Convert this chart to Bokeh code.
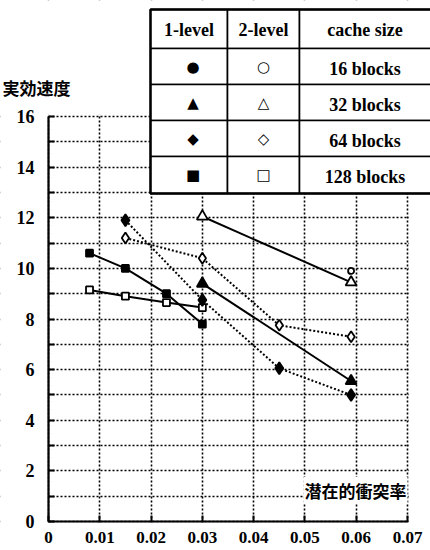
from bokeh.plotting import figure
from bokeh.models import FixedTicker, BoxAnnotation, Label, Range1d
from bokeh.embed import file_html
from bokeh.resources import INLINE

# ---- data -------------------------------------------------------------
x_ticks = [0, 0.01, 0.02, 0.03, 0.04, 0.05, 0.06, 0.07]
x_tick_labels = ["0", "0.01", "0.02", "0.03", "0.04", "0.05", "0.06", "0.07"]
y_ticks = list(range(0, 17))
y_tick_labels = ["0", "", "2", "", "4", "", "6", "", "8", "", "10", "", "12", "", "14", "", "16"]

# 128 blocks
x128 = [0.008, 0.015, 0.023, 0.030]
y128_1level = [10.6, 10.0, 9.0, 7.8]
y128_2level = [9.15, 8.9, 8.65, 8.45]
# 64 blocks
x64 = [0.015, 0.030, 0.045, 0.059]
y64_1level = [11.9, 8.75, 6.05, 5.0]
y64_2level = [11.2, 10.4, 7.75, 7.3]
# 32 blocks
x32 = [0.030, 0.059]
y32_1level = [9.4, 5.55]
y32_2level = [12.05, 9.45]
# 16 blocks
x16 = [0.059]
y16_2level = [9.9]

y_title = "実効速度"
x_title = "潜在的衝突率"
table_header = ["1-level", "2-level", "cache size"]
table_sizes = ["16 blocks", "32 blocks", "64 blocks", "128 blocks"]
table_filled = ["\u25CF", "\u25B2", "\u25C6", "\u25A0"]
table_open = ["\u25CB", "\u25B3", "\u25C7", "\u25A1"]

# ---- layout geometry (pixels, canvas = whole page) --------------------
W, H = 430, 550
PX_LEFT, PX_RIGHT = 48, 407      # x = 0 and x = 0.07
PX_TOP, PX_BOTTOM = 116, 521     # y = 16 and y = 0 (from top)
XMAX, YMAX = x_ticks[-1], y_ticks[-1]
xs_per_px = XMAX / (PX_RIGHT - PX_LEFT)
ys_per_px = YMAX / (PX_BOTTOM - PX_TOP)
x_range = Range1d(-PX_LEFT * xs_per_px, XMAX + (W - PX_RIGHT) * xs_per_px)
y_range = Range1d(-(H - PX_BOTTOM) * ys_per_px, YMAX + PX_TOP * ys_per_px)

SERIF = "Liberation Serif"
CJK = "Noto Sans CJK JP"

p = figure(width=W, height=H, output_backend="svg", toolbar_location=None,
           x_range=x_range, y_range=y_range,
           min_border=0, title=None)
p.outline_line_color = None
p.background_fill_color = "white"
p.border_fill_color = "white"

# axes drawn at fixed data locations (so the whole canvas is the frame)
p.xaxis.fixed_location = 0
p.yaxis.fixed_location = 0
p.xaxis.bounds = (0, XMAX)
p.yaxis.bounds = (0, YMAX)
p.xaxis.ticker = FixedTicker(ticks=x_ticks)
p.xaxis.major_label_overrides = {t: l for t, l in zip(x_ticks, x_tick_labels)}
p.yaxis.ticker = FixedTicker(ticks=y_ticks)
p.yaxis.major_label_overrides = {t: l for t, l in zip(y_ticks, y_tick_labels)}
for ax in (p.xaxis, p.yaxis):
    ax.axis_line_width = 2.2
    ax.axis_line_color = "black"
    ax.major_tick_in = 6
    ax.major_tick_out = 0
    ax.major_tick_line_width = 2
    ax.major_tick_line_color = "black"
    ax.minor_tick_line_color = None
    ax.major_label_text_font = SERIF
    ax.major_label_text_font_style = "bold"
    ax.major_label_text_color = "black"
    ax.major_label_text_font_size = "18px"
p.xaxis.major_label_text_font_size = "17px"
p.xaxis.major_label_standoff = 10
p.yaxis.major_label_standoff = 14

# grid
for g in (p.xgrid, p.ygrid):
    g.grid_line_color = "black"
    g.grid_line_dash = "2 2"
    g.grid_line_width = 1.6
    g.grid_line_alpha = 1
p.xgrid.ticker = FixedTicker(ticks=x_ticks)
p.ygrid.ticker = FixedTicker(ticks=y_ticks)

# white masks so the grid only covers 0..0.07 x 0..16
mask = dict(fill_color="white", fill_alpha=1, line_alpha=0, level="underlay")
p.add_layout(BoxAnnotation(bottom=YMAX + 0.07, **mask))
p.add_layout(BoxAnnotation(top=-0.05, **mask))
p.add_layout(BoxAnnotation(right=-0.0002, **mask))
p.add_layout(BoxAnnotation(left=XMAX + 0.0003, **mask))

# ---- series -----------------------------------------------------------
def series(xs, ys, marker, filled, size, dash="solid"):
    p.line(xs, ys, line_color="black", line_width=2, line_dash=dash)
    p.scatter(xs, ys, marker=marker, size=size,
              fill_color="black" if filled else "white",
              line_color="black", line_width=1.8)

series(x128, y128_1level, "square", True, 7)
series(x128, y128_2level, "square", False, 7)
series(x64, y64_1level, "diamond", True, 12, "2 2")
series(x64, y64_2level, "diamond", False, 11, "2 2")
series(x32, y32_1level, "triangle", True, 11)
series(x32, y32_2level, "triangle", False, 11)
p.scatter(x16, y16_2level, marker="circle", size=6, fill_color="white",
          line_color="black", line_width=1.8)

# ---- titles (screen units: from canvas left / canvas bottom) ----------
p.add_layout(Label(x=2, y=463, x_units="screen", y_units="screen", text=y_title,
                   text_font=CJK, text_font_style="bold", text_font_size="17px",
                   text_align="left", text_baseline="middle", text_color="black"))
p.add_layout(Label(x=303, y=60, x_units="screen", y_units="screen", text=x_title,
                   text_font=CJK, text_font_style="bold", text_font_size="17px",
                   text_align="left", text_baseline="middle", text_color="black",
                   background_fill_color="white", padding=1))

# ---- legend table -------------------------------------------------------
cols = [150, 227, 299, 430]
rows = [541, 502, 466, 430, 394, 357]
for i in range(5):
    for j in range(3):
        right = cols[j + 1] if j < 2 else cols[j + 1] + 10
        p.add_layout(BoxAnnotation(left=cols[j], right=right, top=rows[i], bottom=rows[i + 1],
                                   left_units="screen", right_units="screen",
                                   top_units="screen", bottom_units="screen",
                                   fill_color="white", fill_alpha=1,
                                   line_color="black", line_width=1.6, line_alpha=1))
p.add_layout(BoxAnnotation(left=cols[0], right=cols[3] + 10, top=rows[0], bottom=rows[5],
                           left_units="screen", right_units="screen",
                           top_units="screen", bottom_units="screen",
                           fill_alpha=0, line_color="black", line_width=2.4, line_alpha=1))

def cell_text(txt, j, i, font, size, style="bold", dx=0, dy=0):
    cx = (cols[j] + cols[j + 1]) / 2 + dx
    cy = (rows[i] + rows[i + 1]) / 2 + dy
    p.add_layout(Label(x=cx, y=cy, x_units="screen", y_units="screen", text=txt,
                       text_font=font, text_font_size=size, text_font_style=style,
                       text_align="center", text_baseline="middle", text_color="black"))

for j, h in enumerate(table_header):
    cell_text(h, j, 0, SERIF, "18px", dy=-1)
for i in range(4):
    cell_text(table_sizes[i], 2, i + 1, SERIF, "18px", dy=-2)
    cell_text(table_filled[i], 0, i + 1, "DejaVu Sans", "15px", "bold", dx=4)
    cell_text(table_open[i], 1, i + 1, "DejaVu Sans", "15px", "bold")

open("out.html", "w").write(file_html(p, INLINE))
